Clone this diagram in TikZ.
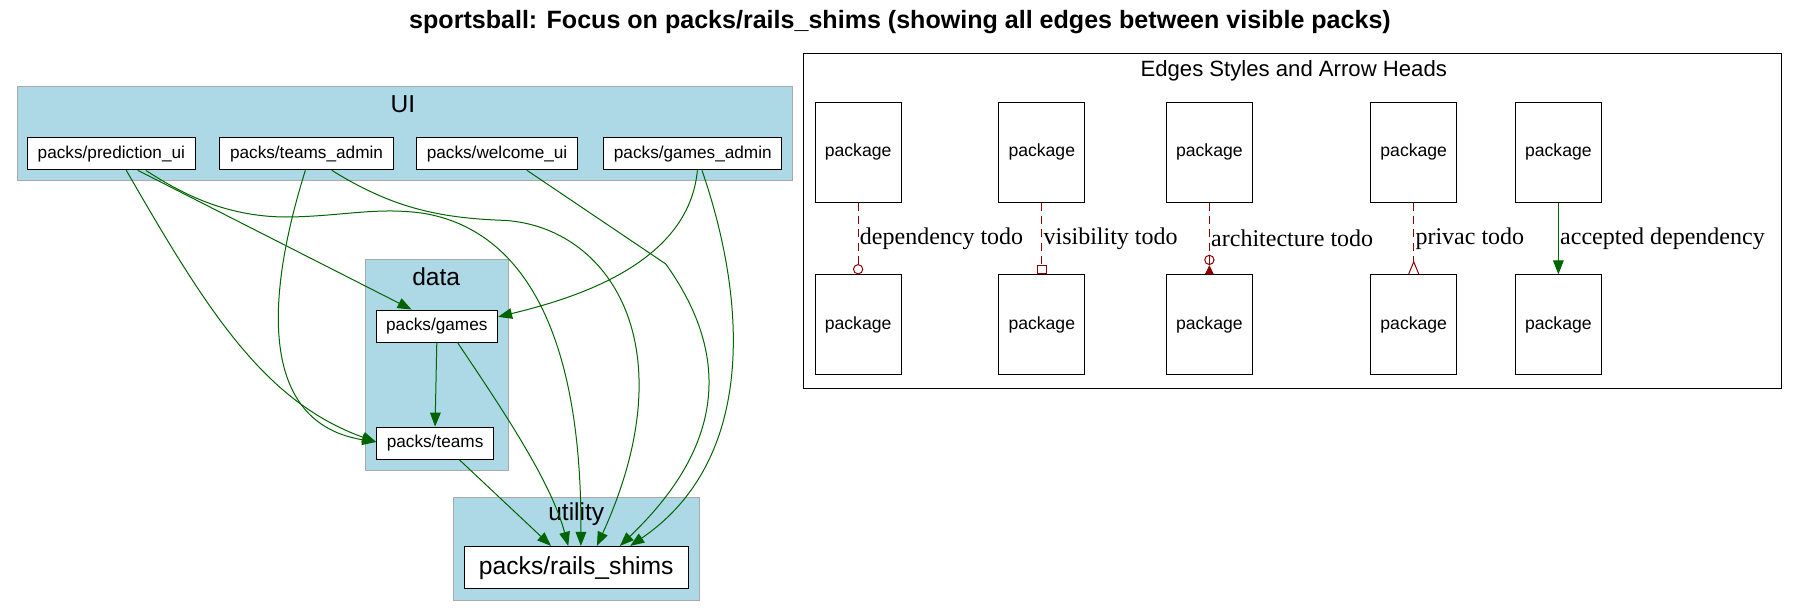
\documentclass[tikz,border=0pt]{standalone}
\usepackage{fontspec}
\setmainfont{Liberation Serif}
\setsansfont{Liberation Sans}
\usetikzlibrary{arrows.meta, calc, positioning}
\definecolor{clusterblue}{HTML}{ADD8E6}
\definecolor{clustergray}{HTML}{A9A9A9}
\definecolor{depgreen}{HTML}{006400}
\definecolor{tododark}{HTML}{8B0000}
\tikzset{>={Triangle[length=10.5pt,width=8pt]}}

\begin{document}
\begin{tikzpicture}[x=0.861pt,y=-0.861pt]
\useasboundingbox (0,0) rectangle (1568,536.6);
% Define styles
\tikzstyle{pack} = [draw, line width=0.75pt, fill=white, text centered, font=\sffamily\fontsize{12.9}{15}\selectfont, minimum height=24pt, inner xsep=7.6pt]
\tikzstyle{legendpack} = [draw, line width=0.75pt, fill=white, font=\sffamily\fontsize{13.2}{15}\selectfont, minimum width=64.6pt, minimum height=75pt]
\tikzstyle{cluster} = [draw=clustergray, line width=0.75pt, fill=clusterblue]
\tikzstyle{clusterlabel} = [font=\sffamily\fontsize{18.4}{21}\selectfont]
\tikzstyle{dep} = [draw=depgreen, line width=0.75pt, ->]
\tikzstyle{todo} = [draw=tododark, line width=0.75pt, dash pattern=on 6pt off 4pt]
\tikzstyle{edgelabel} = [anchor=west, inner sep=1pt, font=\fontsize{18}{20}\selectfont]
% Title
\node[font=\sffamily\bfseries\fontsize{18.8}{22}\selectfont] (title) at (784,19) {sportsball: Focus on packs/rails\_shims (showing all edges between visible packs)};
% Clusters
\draw[cluster] (15,75) rectangle (690,157);
\node[clusterlabel] (uilabel) at (351,91) {UI};
\draw[cluster] (318,226) rectangle (443,410);
\node[clusterlabel] (datalabel) at (380,241) {data};
\draw[cluster] (395,433) rectangle (609,523);
\node[clusterlabel] (utilitylabel) at (502,448) {utility};
% Define nodes
\node[pack] (predui) at (97,134) {packs/prediction\_ui};
\node[pack] (teamsadmin) at (267,134) {packs/teams\_admin};
\node[pack] (welcomeui) at (433,134) {packs/welcome\_ui};
\node[pack] (gamesadmin) at (603.5,134) {packs/games\_admin};
\node[pack] (games) at (380.5,284) {packs/games};
\node[pack] (teams) at (379,386) {packs/teams};
\node[pack, font=\sffamily\fontsize{18.5}{21}\selectfont, minimum height=31.9pt, inner xsep=11pt] (rails) at (502,494.5) {packs/rails\_shims};
% Connect the nodes
\draw[dep] ($(predui.south)+(13,0)$) .. controls (180,270) and (230,350) .. ($(teams.west)+(0,-1)$);
\draw[dep] ($(predui.south)+(23,0)$) -- ($(games.north)+(-22,0)$);
\draw[dep] ($(predui.south)+(30,0)$) .. controls (160,170) and (200,190) .. (254,189) .. controls (300,188) and (330,180) .. (370,186) .. controls (450,200) and (507,280) .. ($(rails.north)+(4,0)$);
\draw[dep] ($(teamsadmin.south)+(-1,0)$) .. controls (225,280) and (235,370) .. ($(teams.west)+(0,-1)$);
\draw[dep] ($(teamsadmin.south)+(22,0)$) .. controls (340,180) and (380,190) .. (440,192) .. controls (530,198) and (600,300) .. ($(rails.north)+(18,0)$);
\draw[dep] ($(welcomeui.south)+(26,0)$) -- (580,230) .. controls (630,300) and (640,380) .. ($(rails.north)+(38,0)$);
\draw[dep] ($(gamesadmin.south)+(4,0)$) .. controls (600,230) and (500,260) .. ($(games.east)+(0,-8)$);
\draw[dep] ($(gamesadmin.south)+(8,0)$) .. controls (650,260) and (660,400) .. ($(rails.north)+(47,0)$);
\draw[dep] (games.south) -- (teams.north);
\draw[dep] ($(games.south)+(18,0)$) .. controls (440,360) and (480,420) .. ($(rails.north)+(-7,0)$);
\draw[dep] ($(teams.south)+(21,0)$) -- ($(rails.north)+(-22,0)$);
% Legend
\draw[line width=0.75pt] (700,47) rectangle (1552,338);
\node[font=\sffamily\fontsize{16.6}{19}\selectfont] (legendtitle) at (1127,62) {Edges Styles and Arrow Heads};
\node[legendpack] (srcdep) at (747.5,132.5) {package};
\node[legendpack] (tgtdep) at (747.5,283) {package};
\node[legendpack] (srcvis) at (907.5,132.5) {package};
\node[legendpack] (tgtvis) at (907.5,283) {package};
\node[legendpack] (srcarch) at (1053.5,132.5) {package};
\node[legendpack] (tgtarch) at (1053.5,283) {package};
\node[legendpack] (srcpriv) at (1231.5,132.5) {package};
\node[legendpack] (tgtpriv) at (1231.5,283) {package};
\node[legendpack] (srcacc) at (1357.5,132.5) {package};
\node[legendpack] (tgtacc) at (1357.5,283) {package};
\draw[todo, -{Circle[open,length=7.7pt,width=7.7pt]}] (srcdep) -- node[edgelabel] {dependency todo} (tgtdep);
\draw[todo, -{Square[open,length=7pt,width=7.5pt]}] (srcvis) -- node[edgelabel] {visibility todo} (tgtvis);
\draw[todo, -{Circle[open,length=7.7pt,width=7.7pt] Triangle[reversed,length=7pt,width=6.5pt]}] (srcarch) -- node[edgelabel] {architecture todo} (tgtarch);
\draw[todo, -{Straight Barb[reversed,length=9pt,width=7.5pt]}] (srcpriv) -- node[edgelabel] {privac todo} (tgtpriv);
\draw[dep] (srcacc) -- node[edgelabel] {accepted dependency} (tgtacc);
\end{tikzpicture}
\end{document}
